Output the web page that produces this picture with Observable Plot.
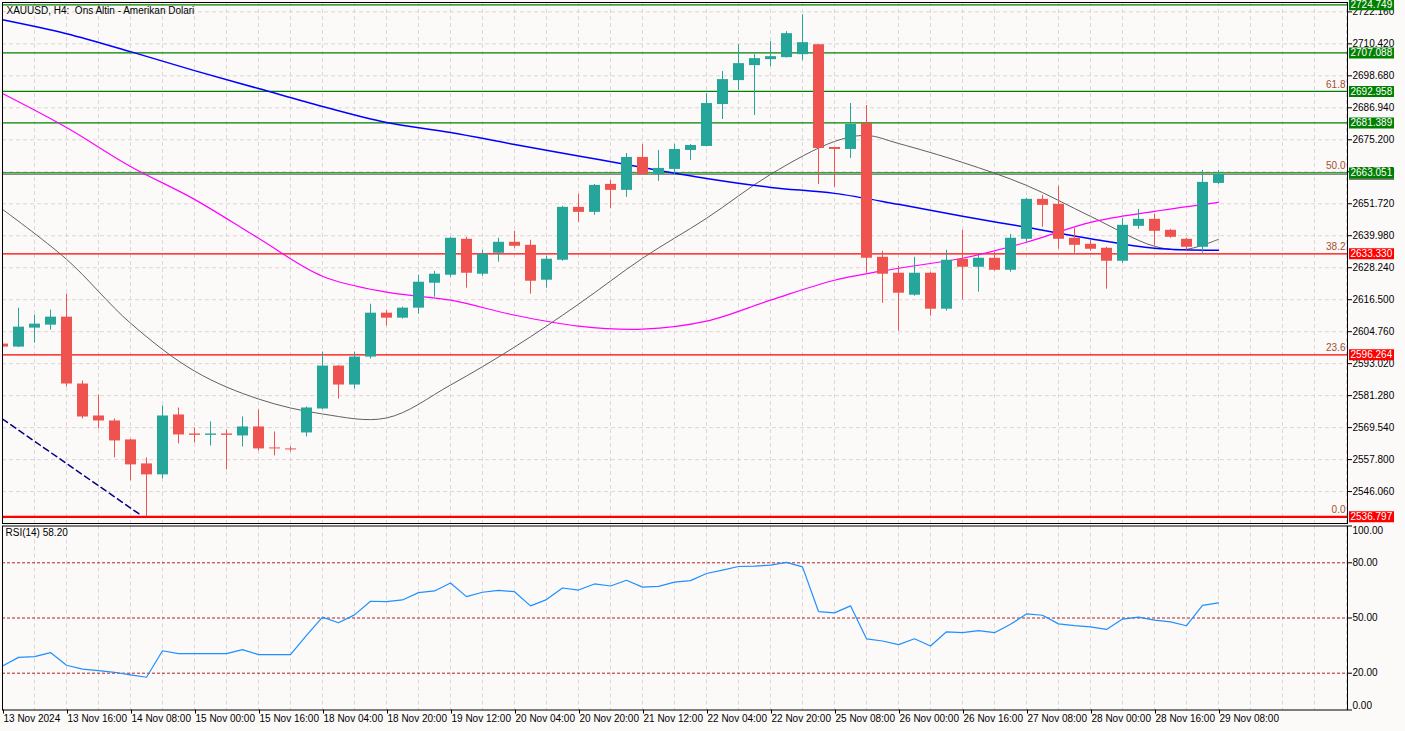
<!DOCTYPE html>
<html><head><meta charset="utf-8">
<script src="https://cdn.jsdelivr.net/npm/d3@7"></script>
<script src="https://cdn.jsdelivr.net/npm/@observablehq/plot@0.6"></script>
<style>
html,body{margin:0;padding:0;background:#fcf9f9;}
#wrap{position:relative;width:1405px;height:731px;overflow:hidden;background:#fcf9f9;}
#wrap svg{position:absolute;left:0;top:0;}
</style></head><body><div id="wrap"></div>
<script>
// ---- data (H4 bars, 13 Nov 2024 .. 29 Nov 08:00) ----
const openP = [2600.2,2599.1,2606.06,2607.16,2610.09,2585.54,2573.81,2571.98,2565.02,2556.22,
2552.19,2574.18,2567.21,2566.7,2567.2,2566.48,2569.78,2562.08,2561.72,2567.58,
2576.38,2592.13,2585.17,2595.43,2611.55,2609.72,2613.39,2622.55,2625.48,2638.67,
2625.85,2633.54,2637.57,2636.47,2623.65,2630.98,2650.40,2648.56,2658.83,2656.63,
2668.72,2662.49,2664.32,2671.28,2672.75,2688.14,2696.93,2702.43,2704.63,2705.36,
2706.46,2710.13,2672.38,2671.65,2681.18,2632.07,2626.21,2618.15,2626.21,2613.02,
2631.34,2628.41,2631.71,2627.31,2638.67,2653.33,2651.50,2639.04,2636.84,2635.37,
2630.61,2643.43,2646.00,2641.97,2638.67,2635.74,2659.19];
const highP = [2601.0,2613.39,2610.82,2612.65,2618.52,2586.64,2581.51,2572.71,2565.3,2558.42,
2577.48,2576.74,2569.41,2571.61,2568.68,2573.44,2576.01,2567.95,2562.45,2577.11,
2597.26,2592.3,2597.26,2614.85,2612.65,2613.75,2625.48,2626.94,2639.40,2639.40,
2634.64,2639.04,2641.60,2638.30,2632.44,2650.76,2655.16,2658.83,2660.29,2670.18,
2673.48,2671.28,2673.48,2673.48,2692.17,2700.23,2710.13,2706.46,2711.23,2714.89,
2721.12,2710.3,2672.5,2688.51,2687.77,2634.27,2628.78,2632.07,2626.58,2634.64,
2641.97,2632.81,2633.91,2640.50,2653.69,2654.79,2658.09,2642.70,2638.30,2635.74,
2646.37,2649.66,2647.83,2642.34,2639.04,2663.96,2663.96];
const lowP = [2598.5,2598.9,2600.56,2605.32,2584.44,2572.71,2569.05,2558.42,2549.99,2536.80,
2550.73,2563.55,2563.92,2562.82,2554.02,2562.45,2560.99,2559.15,2560.62,2566.12,
2576.1,2580.04,2583.71,2594.70,2606.79,2609.36,2611.19,2617.42,2624.75,2620.72,
2625.11,2630.24,2635.37,2618.52,2620.72,2630.61,2644.90,2647.47,2650.03,2654.06,
2662.1,2659.92,2662.1,2667.62,2672.6,2682.64,2693.27,2684.11,2702.06,2705.2,
2704.26,2658.83,2657.73,2668.35,2626.21,2615.22,2604.96,2617.78,2610.45,2612.29,
2616.32,2619.25,2626.94,2626.58,2637.57,2643.07,2635.01,2633.54,2634.27,2620.35,
2629.88,2642.34,2636.11,2639.04,2634.64,2633.54,2658.83];
const closeP = [2599.1,2606.42,2607.52,2610.09,2585.54,2573.44,2571.98,2564.65,2555.86,2552.19,
2573.81,2566.85,2566.7,2567.2,2566.7,2569.78,2561.72,2561.72,2561.35,2576.74,
2592.13,2585.17,2595.43,2611.55,2609.72,2613.39,2622.91,2625.85,2639.04,2626.21,
2633.17,2637.57,2636.11,2623.28,2631.34,2650.40,2648.56,2658.46,2656.63,2668.72,
2662.49,2664.69,2671.65,2673.12,2688.51,2697.30,2703.16,2705.00,2705.73,2714.16,
2710.86,2672.02,2671.65,2680.81,2631.71,2625.85,2618.88,2626.21,2613.02,2630.98,
2628.41,2631.71,2627.31,2639.04,2653.33,2651.13,2638.67,2636.47,2635.01,2630.61,
2643.80,2646.00,2641.60,2639.40,2635.74,2659.56,2662.49];
const rsiValues = [23.9,28.6,29.0,31.2,24.3,22.2,21.4,20.5,19.1,17.8,
32.2,30.6,30.6,30.6,30.6,32.8,30.1,30.1,30.1,40.5,
50.5,47.4,51.7,59.1,58.9,59.8,63.8,64.7,69.0,61.6,
64.0,65.0,64.3,56.6,60.0,66.3,65.2,68.5,67.4,70.5,
66.8,67.2,69.5,70.3,74.2,76.0,78.0,78.2,78.7,80.2,
77.8,53.5,52.8,56.6,38.7,37.5,35.5,38.7,34.8,42.5,
42.0,43.1,42.0,46.6,52.2,51.5,46.8,45.9,45.2,43.8,
49.4,50.5,48.8,47.9,45.8,56.9,58.2];

// moving averages read at bar positions
const maBars = [0,4,8,12,16,20,24,28,32,36,40,44,48,52,56,60,64,68,72,76];
const maBlue = [2719.29,2714.16,2707.56,2700.60,2694.00,2687.41,2681.54,2677.88,2673.48,2669.27,
2665.05,2661.02,2657.73,2655.53,2651.50,2647.10,2643.07,2638.85,2635.37,2634.64];
const maMagenta = [2692.17,2679.70,2665.42,2653.33,2639.04,2625.11,2619.25,2616.32,2610.82,2606.79,
2605.69,2608.62,2616.32,2623.65,2628.04,2631.71,2637.57,2644.90,2648.93,2652.23];
const grayBars = [0,4,8,12,16,20,24,28,32,36,40,44,48,52,54,56,60,64,68,72,74,76];
const maGray = [2649.66,2631.34,2607.89,2590.30,2580.04,2574.54,2573.08,2585.17,2599.10,2614.85,
2631.71,2646.37,2662.49,2674.58,2676.78,2673.85,2666.89,2658.46,2647.10,2636.11,2635.01,2638.67];

// fibonacci trend line (visible part) and levels
const fibTrendBars = [0, 8.6];
const fibTrendPrices = [2572.7, 2537.6];
const greenLevels = [2724.749, 2707.088, 2692.958, 2681.389, 2663.051];
const redLevels = [2633.330, 2596.264, 2536.797];
const fibNames = ["0.0", "23.6", "38.2", "50.0", "61.8"];
const fibPrices = [2536.797, 2596.264, 2633.330, 2663.051, 2692.958];
const bidPrice = 2662.49;

const priceTicks = [2546.060,2557.800,2569.540,2581.280,2593.020,2604.760,2616.500,2628.240,
2639.980,2651.720,2663.460,2675.200,2686.940,2698.680,2710.420,2722.160];
const xTickBars = [0,4,8,12,16,20,24,28,32,36,40,44,48,52,56,60,64,68,72,76];
const xTickLabels = ["13 Nov 2024","13 Nov 16:00","14 Nov 08:00","15 Nov 00:00","15 Nov 16:00",
"18 Nov 04:00","18 Nov 20:00","19 Nov 12:00","20 Nov 04:00","20 Nov 20:00","21 Nov 12:00",
"22 Nov 04:00","22 Nov 20:00","25 Nov 08:00","26 Nov 00:00","26 Nov 16:00","27 Nov 08:00",
"28 Nov 00:00","28 Nov 16:00","29 Nov 08:00"];
const rsiLevels = [80, 50, 20];
const titleText = "XAUUSD, H4:\u00a0 Ons Altin - Amerikan Dolari";
const rsiTitle = "RSI(14) 58.20";

// ---- build tables ----
const candles = openP.map((o, i) => ({i, open: o, high: highP[i], low: lowP[i], close: closeP[i]}));
const up = d => d.close >= d.open;
const UPC = "#26a69a", DNC = "#ef5350";
const blue = maBars.map((b, k) => ({bar: b, price: maBlue[k]}));
const magenta = maBars.map((b, k) => ({bar: b, price: maMagenta[k]}));
const gray = grayBars.map((b, k) => ({bar: b, price: maGray[k]}));
const fibTrend = fibTrendBars.map((b, k) => ({bar: b, price: fibTrendPrices[k]}));
const fibLab = fibNames.map((n, k) => ({name: n, price: fibPrices[k]}));
const boxes = [{price: bidPrice, color: "#808080", label: false}]
  .concat(greenLevels.map(p => ({price: p, color: "#008000", label: true})))
  .concat(redLevels.map(p => ({price: p, color: "#ff0000", label: true})));
const rsi = rsiValues.map((v, i) => ({i, v}));
const labelMap = new Map(xTickBars.map((b, k) => [b, xTickLabels[k]]));

const W = 1405, H = 731;
const xDomain = [0, 84.0625];
const FONT = "Liberation Sans, Arial, sans-serif";
const gridStyle = {stroke: "#ddd7d7", strokeOpacity: 1, strokeDasharray: "4,3"};
const evenBars = d3.range(0, 85, 2);

const main = Plot.plot({
  width: W, height: H,
  marginLeft: 2, marginRight: 58, marginTop: 2, marginBottom: H - 523,
  x: {domain: xDomain, axis: null, label: null},
  y: {domain: [2534.34, 2725.60], axis: null, label: null},
  style: {background: "transparent", fontFamily: FONT, fontSize: "10px", color: "black"},
  marks: [
    Plot.gridX(evenBars, gridStyle),
    Plot.gridY(priceTicks, gridStyle),
    Plot.ruleY(greenLevels, {stroke: "#008000", strokeWidth: 1.2}),
    Plot.ruleY(redLevels, {stroke: "#ff0000", strokeWidth: d => d === 2536.797 ? 2.2 : 1.2}),
    Plot.ruleY([bidPrice], {stroke: "#808080", strokeWidth: 1}),
    Plot.line(fibTrend, {x: "bar", y: "price", stroke: "#000080", strokeDasharray: "6,4", clip: true}),
    Plot.line(gray, {x: "bar", y: "price", stroke: "#606060", strokeWidth: 1, curve: "catmull-rom", clip: true}),
    Plot.line(magenta, {x: "bar", y: "price", stroke: "#ff00ff", strokeWidth: 1.2, curve: "catmull-rom", clip: true}),
    Plot.line(blue, {x: "bar", y: "price", stroke: "#0000ff", strokeWidth: 1.5, curve: "catmull-rom", clip: true}),
    Plot.ruleX(candles, {x: "i", y1: "low", y2: "high", stroke: d => up(d) ? UPC : DNC, strokeWidth: 1, clip: true}),
    Plot.ruleX(candles, {x: "i", y1: "open", y2: "close", stroke: d => up(d) ? UPC : DNC, strokeWidth: 11, clip: true}),
    Plot.frame({stroke: "black", strokeWidth: 1}),
    Plot.axisY(priceTicks, {anchor: "right", label: null, tickSize: 4, tickPadding: 1, tickFormat: d => d.toFixed(3), fill: "black", stroke: "black"}),
    Plot.ruleY(boxes, {y: "price", stroke: "color", strokeWidth: 11, insetLeft: 1347, insetRight: -47}),
    Plot.text(boxes.filter(d => d.label), {y: "price", text: d => d.price.toFixed(3), frameAnchor: "right", textAnchor: "start", dx: 3, fill: "white"}),
    Plot.text(fibLab, {y: "price", text: "name", frameAnchor: "right", textAnchor: "end", dx: -2, dy: -7, fill: "#a0522d"}),
    Plot.text([titleText], {text: d => d, frameAnchor: "top-left", lineAnchor: "top", dx: 4, dy: 4, fill: "black"})
  ]
});

const rsiPlot = Plot.plot({
  width: W, height: H,
  marginLeft: 2, marginRight: 58, marginTop: 525.5, marginBottom: 21.5,
  x: {domain: xDomain, axis: null, label: null},
  y: {domain: [0, 100], axis: null, label: null},
  style: {background: "transparent", fontFamily: FONT, fontSize: "10px", color: "black"},
  marks: [
    Plot.gridX(evenBars, gridStyle),
    Plot.ruleY(rsiLevels, {stroke: "#b22222", strokeDasharray: "3,2", strokeWidth: 1}),
    Plot.line(rsi, {x: "i", y: "v", stroke: "#1e90ff", strokeWidth: 1.2}),
    Plot.frame({stroke: "black", strokeWidth: 1}),
    Plot.axisY(rsiLevels, {anchor: "right", label: null, tickSize: 4, tickPadding: 1, tickFormat: d => d.toFixed(2), fill: "black", stroke: "black"}),
    Plot.axisY([100, 0], {anchor: "right", label: null, tickSize: 4, tickFormat: () => "", stroke: "black"}),
    Plot.text(["100.00"], {text: d => d, frameAnchor: "top-right", textAnchor: "start", lineAnchor: "top", dx: 5, dy: 1, fill: "black"}),
    Plot.text(["0.00"], {text: d => d, frameAnchor: "bottom-right", textAnchor: "start", lineAnchor: "bottom", dx: 5, dy: -1, fill: "black"}),
    Plot.axisX(xTickBars, {anchor: "bottom", label: null, tickSize: 4, tickPadding: 1, textAnchor: "start", dx: 1, tickFormat: d => labelMap.get(d), fill: "black", stroke: "black"}),
    Plot.text([rsiTitle], {text: d => d, frameAnchor: "top-left", lineAnchor: "top", dx: 3, dy: 3, fill: "black"})
  ]
});

const wrap = document.getElementById("wrap");
wrap.appendChild(main);
wrap.appendChild(rsiPlot);
</script>
</body></html>
